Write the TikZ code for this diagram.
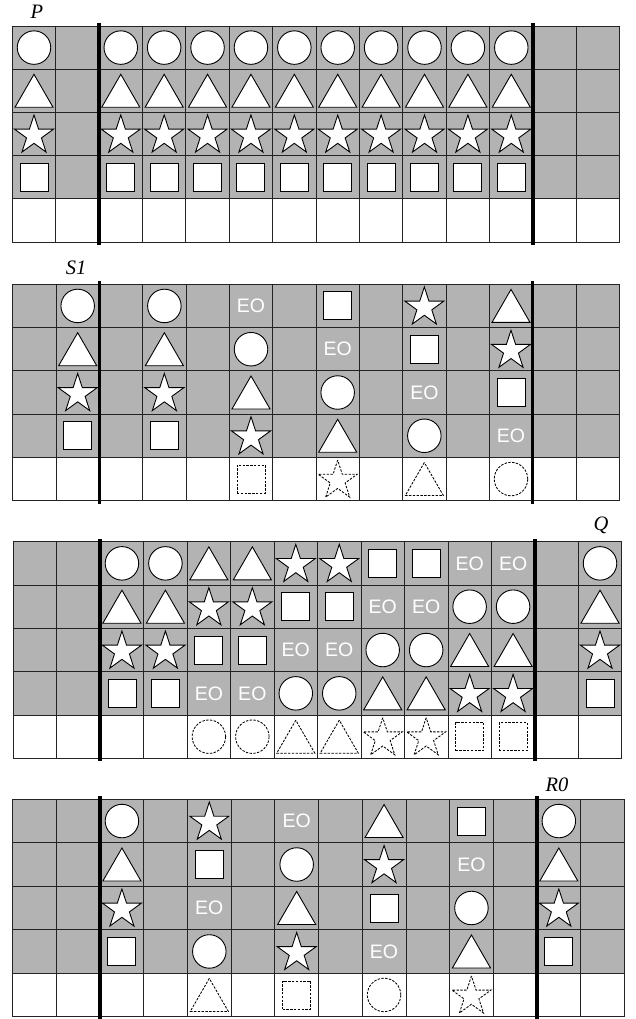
\documentclass[tikz,border=0pt]{standalone}
\usepackage{fontspec}
\setmainfont{Liberation Serif}
\setsansfont{Liberation Sans}
\usetikzlibrary{shapes.geometric}
\definecolor{cellgray}{RGB}{179,179,179}
\definecolor{gridline}{RGB}{35,35,35}
\tikzset{
  shapebase/.style={draw=black, fill=white, line width=0.9pt, inner sep=0pt},
  circ/.style={shapebase, circle, minimum size=33.5pt},
  tri/.style={shapebase, regular polygon, regular polygon sides=3, minimum size=44pt, yshift=-5.5pt},
  starsh/.style={shapebase, star, star points=5, star point ratio=2.618, minimum size=41pt, yshift=-1.5pt},
  sq/.style={shapebase, rectangle, minimum size=28pt},
  ghost/.style={dash pattern=on 2.4pt off 1.4pt, line width=0.85pt},
  gcirc/.style={circ, ghost},
  gtri/.style={tri, ghost},
  gstar/.style={starsh, ghost},
  gsq/.style={sq, ghost},
  eo/.style={text=white, inner sep=0pt, font=\fontsize{19.5}{19.5}\selectfont\sffamily, execute at begin node={EO}},
  nil/.style={draw=none, fill=none, inner sep=0pt, minimum size=0pt},
  thin grid/.style={draw=gridline, line width=0.8pt},
  divider/.style={draw=black, line width=3.6pt},
  lab/.style={font=\fontsize{20.5}{20.5}\selectfont\itshape, inner sep=0pt}
}
\newcommand\cellshape[4]{\node[#4] (#1-#2-#3) at ({#2+0.5},{#3+0.5}) {};}
\newcommand\shapecol[7]{\foreach \s [count=\r from 0] in {#3,#4,#5,#6,#7}{\cellshape{#1}{#2}{\r}{\s}}}
\newcommand\gridbase{%
  \fill[cellgray] (0,0) rectangle (14,4);
  \foreach \i in {0,...,14} \draw[thin grid] (\i,0) -- (\i,5);
  \foreach \j in {0,...,5} \draw[thin grid] (0,\j) -- (14,\j);
}
\newcommand\dividers{%
  \draw[divider] (2,-0.07) -- (2,5.07);
  \draw[divider] (12,-0.07) -- (12,5.07);
}
\begin{document}
\begin{tikzpicture}
\useasboundingbox (0,0) rectangle (636pt,-1019pt);
% ---------------- P
\node[lab] (labP) at (37pt,-11.5pt) {P};
\begin{scope}[xshift=12.3pt, yshift=-26pt, x=43.39pt, y=-43.2pt]
  \gridbase
  \foreach \c in {0,2,3,...,11}{\shapecol{P}{\c}{circ}{tri}{starsh}{sq}{nil}}
  \dividers
\end{scope}
% ---------------- S1
\node[lab] (labS) at (76pt,-268pt) {S1};
\begin{scope}[xshift=12.7pt, yshift=-284.3pt, x=43.33pt, y=-43.28pt]
  \gridbase
  \shapecol{S}{1}{circ}{tri}{starsh}{sq}{nil}
  \shapecol{S}{3}{circ}{tri}{starsh}{sq}{nil}
  \shapecol{S}{5}{eo}{circ}{tri}{starsh}{gsq}
  \shapecol{S}{7}{sq}{eo}{circ}{tri}{gstar}
  \shapecol{S}{9}{starsh}{sq}{eo}{circ}{gtri}
  \shapecol{S}{11}{tri}{starsh}{sq}{eo}{gcirc}
  \dividers
\end{scope}
% ---------------- Q
\node[lab] (labQ) at (601pt,-525pt) {Q};
\begin{scope}[xshift=13.3pt, yshift=-541.7pt, x=43.46pt, y=-43.33pt]
  \gridbase
  \foreach \c in {2,3}{\shapecol{Q}{\c}{circ}{tri}{starsh}{sq}{nil}}
  \foreach \c in {4,5}{\shapecol{Q}{\c}{tri}{starsh}{sq}{eo}{gcirc}}
  \foreach \c in {6,7}{\shapecol{Q}{\c}{starsh}{sq}{eo}{circ}{gtri}}
  \foreach \c in {8,9}{\shapecol{Q}{\c}{sq}{eo}{circ}{tri}{gstar}}
  \foreach \c in {10,11}{\shapecol{Q}{\c}{eo}{circ}{tri}{starsh}{gsq}}
  \shapecol{Q}{13}{circ}{tri}{starsh}{sq}{nil}
  \dividers
\end{scope}
% ---------------- R0
\node[lab] (labR) at (557pt,-785pt) {R0};
\begin{scope}[xshift=12.7pt, yshift=-799.3pt, x=43.69pt, y=-43.47pt]
  \gridbase
  \shapecol{R}{2}{circ}{tri}{starsh}{sq}{nil}
  \shapecol{R}{4}{starsh}{sq}{eo}{circ}{gtri}
  \shapecol{R}{6}{eo}{circ}{tri}{starsh}{gsq}
  \shapecol{R}{8}{tri}{starsh}{sq}{eo}{gcirc}
  \shapecol{R}{10}{sq}{eo}{circ}{tri}{gstar}
  \shapecol{R}{12}{circ}{tri}{starsh}{sq}{nil}
  \dividers
\end{scope}
\end{tikzpicture}
\end{document}
